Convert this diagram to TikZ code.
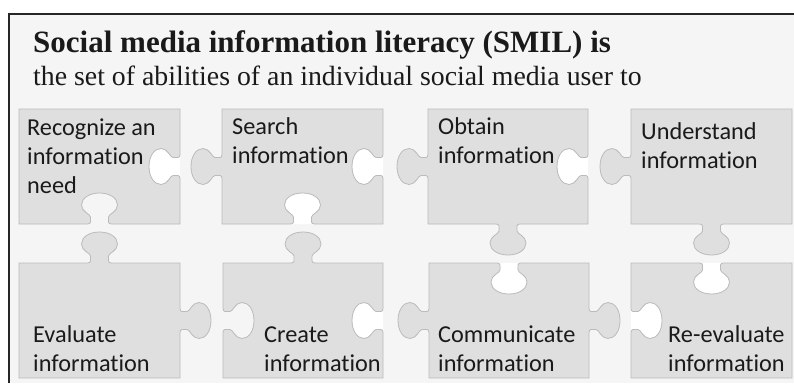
\documentclass[tikz,border=0pt]{standalone}
\usepackage{fontspec}
\setmainfont{Liberation Serif}
\newfontfamily\piecefont[Ligatures=NoCommon]{Carlito}
\definecolor{bgc}{HTML}{F5F5F5}
\definecolor{piecec}{HTML}{DFDFDF}
\definecolor{edgec}{HTML}{BBBBBB}
\definecolor{txtc}{HTML}{1A1A1A}
% tab: centre X,Y ; along-edge (a,b) ; outward*sign (c,d); point = (X+u a+v c, Y+u b+v d)
\newcommand\tab[6]{%
 -- ({#1+(-12)*(#3)},{#2+(-12)*(#4)})
 .. controls ({#1+(-8)*(#3)},{#2+(-8)*(#4)}) and ({#1+(-9)*(#3)+(3)*(#5)},{#2+(-9)*(#4)+(3)*(#6)})
 .. ({#1+(-9)*(#3)+(7)*(#5)},{#2+(-9)*(#4)+(7)*(#6)})
 .. controls ({#1+(-9)*(#3)+(10)*(#5)},{#2+(-9)*(#4)+(10)*(#6)}) and ({#1+(-18)*(#3)+(12)*(#5)},{#2+(-18)*(#4)+(12)*(#6)})
 .. ({#1+(-18)*(#3)+(19)*(#5)},{#2+(-18)*(#4)+(19)*(#6)})
 .. controls ({#1+(-18)*(#3)+(26)*(#5)},{#2+(-18)*(#4)+(26)*(#6)}) and ({#1+(-10)*(#3)+(31)*(#5)},{#2+(-10)*(#4)+(31)*(#6)})
 .. ({#1+(31)*(#5)},{#2+(31)*(#6)})
 .. controls ({#1+(10)*(#3)+(31)*(#5)},{#2+(10)*(#4)+(31)*(#6)}) and ({#1+(18)*(#3)+(26)*(#5)},{#2+(18)*(#4)+(26)*(#6)})
 .. ({#1+(18)*(#3)+(19)*(#5)},{#2+(18)*(#4)+(19)*(#6)})
 .. controls ({#1+(18)*(#3)+(12)*(#5)},{#2+(18)*(#4)+(12)*(#6)}) and ({#1+(9)*(#3)+(10)*(#5)},{#2+(9)*(#4)+(10)*(#6)})
 .. ({#1+(9)*(#3)+(7)*(#5)},{#2+(9)*(#4)+(7)*(#6)})
 .. controls ({#1+(9)*(#3)+(3)*(#5)},{#2+(9)*(#4)+(3)*(#6)}) and ({#1+(8)*(#3)},{#2+(8)*(#4)})
 .. ({#1+(12)*(#3)},{#2+(12)*(#4)})}
\newcommand\hole[6]{\fill[white] ({#1+(-12)*(#3)},{#2+(-12)*(#4)}) \tab{#1}{#2}{#3}{#4}{#5}{#6} -- cycle;}
\begin{document}
\begin{tikzpicture}[x=1pt,y=-1pt,
  piece/.style={fill=piecec,draw=edgec,line width=0.8pt},
  lbl/.style={anchor=base west,inner sep=0pt,text=txtc,font=\piecefont\fontsize{24.3}{29}\selectfont}]
\useasboundingbox (0,0) rectangle (794,383);
\fill[white] (0,0) rectangle (794,383);
\fill[bgc] (8,13) rectangle (794,383);
\draw[line width=1.6pt,black!85] (8.8,383) -- (8.8,13.8) -- (794,13.8);
% white holes
\hole{180}{166.5}{0}{1}{-1}{0}
\hole{383}{166.5}{0}{1}{-1}{0}
\hole{302.5}{224}{-1}{0}{0}{-1}
\hole{588}{166.5}{0}{1}{-1}{0}
\hole{383}{320.5}{0}{1}{-1}{0}
\hole{509}{263}{1}{0}{0}{1}
\hole{711.5}{263}{1}{0}{0}{1}
\hole{631}{320.5}{0}{-1}{1}{0}
% pieces
\path[piece] (19,109) -- (180,109) \tab{180}{166.5}{0}{1}{-1}{0} -- (180,224) \tab{99.5}{224}{-1}{0}{0}{-1} -- (19,224) -- cycle;
\path[piece] (222,109) -- (383,109) \tab{383}{166.5}{0}{1}{-1}{0} -- (383,224) \tab{302.5}{224}{-1}{0}{0}{-1} -- (222,224) \tab{222}{166.5}{0}{-1}{-1}{0} -- cycle;
\path[piece] (428,109) -- (588,109) \tab{588}{166.5}{0}{1}{-1}{0} -- (588,224) \tab{508}{224}{-1}{0}{0}{1} -- (428,224) \tab{428}{166.5}{0}{-1}{-1}{0} -- cycle;
\path[piece] (631,109) -- (792,109) -- (792,224) \tab{711.5}{224}{-1}{0}{0}{1} -- (631,224) \tab{631}{166.5}{0}{-1}{-1}{0} -- cycle;
\path[piece] (19,263) \tab{99.5}{263}{1}{0}{0}{-1} -- (180,263) \tab{180}{320.5}{0}{1}{1}{0} -- (180,378) -- (19,378) -- cycle;
\path[piece] (223,263) \tab{303}{263}{1}{0}{0}{-1} -- (383,263) \tab{383}{320.5}{0}{1}{-1}{0} -- (383,378) -- (223,378) \tab{223}{320.5}{0}{-1}{1}{0} -- cycle;
\path[piece] (429,263) \tab{509}{263}{1}{0}{0}{1} -- (589,263) \tab{589}{320.5}{0}{1}{1}{0} -- (589,378) -- (429,378) \tab{429}{320.5}{0}{-1}{-1}{0} -- cycle;
\path[piece] (631,263) \tab{711.5}{263}{1}{0}{0}{1} -- (792,263) -- (792,378) -- (631,378) \tab{631}{320.5}{0}{-1}{1}{0} -- cycle;
% texts
\node[anchor=base west,inner sep=0pt,text=txtc,font=\bfseries\fontsize{31}{36}\selectfont] (title) at (33,52) {Social media information literacy (SMIL) is};
\node[anchor=base west,inner sep=0pt,text=txtc,font=\fontsize{27.8}{33}\selectfont] (sub) at (33,85) {the set of abilities of an individual social media user to};
\node[lbl] (t1) at (27,135) {\parbox[t]{160pt}{\raggedright Recognize an\\information\\need}};
\node[lbl] (t2) at (232,134) {\parbox[t]{160pt}{\raggedright Search\\information}};
\node[lbl] (t3) at (438,134) {\parbox[t]{160pt}{\raggedright Obtain\\information}};
\node[lbl] (t4) at (641,139) {\parbox[t]{160pt}{\raggedright Understand\\information}};
\node[lbl] (t5) at (33,342) {\parbox[t]{160pt}{\raggedright Evaluate\\information}};
\node[lbl] (t6) at (264,342) {\parbox[t]{160pt}{\raggedright Create\\information}};
\node[lbl] (t7) at (438,342) {\parbox[t]{160pt}{\raggedright Communicate\\information}};
\node[lbl] (t8) at (668,342) {\parbox[t]{160pt}{\raggedright Re-evaluate\\information}};
\end{tikzpicture}
\end{document}
